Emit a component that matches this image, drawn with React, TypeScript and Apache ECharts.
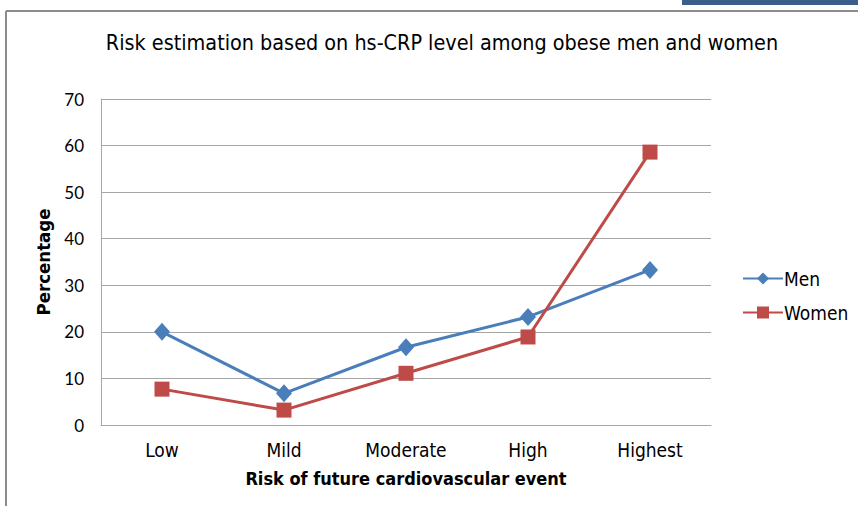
import React, { useEffect, useRef } from "react";
import * as echarts from "echarts";

const categories = ["Low", "Mild", "Moderate", "High", "Highest"];
const menValues = [20.0, 6.8, 16.7, 23.2, 33.3];
const womenValues = [7.7, 3.2, 11.1, 18.9, 58.6];
const yTicks = { min: 0, max: 70, interval: 10 };

const titleText = "Risk estimation based on hs-CRP level among obese men and women";
const xName = "Risk of future cardiovascular event";
const yName = "Percentage";

export default function App() {
  const ref = useRef<HTMLDivElement>(null);
  useEffect(() => {
    if (!ref.current) return;
    const chart = echarts.init(ref.current, null, { renderer: "svg" });
    const cond = "'DejaVu Sans Condensed', 'DejaVu Sans', sans-serif";
    const labelFont = "Lato, 'Open Sans', sans-serif";
    chart.setOption({
      animation: false,
      backgroundColor: "#ffffff",
      title: {
        text: titleText,
        left: 437,
        top: 27,
        textAlign: "center",
        textStyle: {
          fontFamily: cond,
          fontSize: 21.4,
          fontWeight: "normal",
          color: "#000",
        },
      },
      graphic: [
        { type: "rect", shape: { x: 682, y: 0, width: 176, height: 5 }, style: { fill: "#3B5F8A" } },
        { type: "line", shape: { x1: 6, y1: 11, x2: 858, y2: 11 }, style: { stroke: "#8c8c8c", lineWidth: 2 } },
        { type: "line", shape: { x1: 6, y1: 11, x2: 6, y2: 506 }, style: { stroke: "#8c8c8c", lineWidth: 2 } },
      ],
      grid: { left: 101, right: 147, top: 99, bottom: 81, containLabel: false },
      legend: {
        orient: "vertical",
        left: 737,
        top: 264,
        itemWidth: 40,
        itemHeight: 15,
        itemGap: 15,
        textStyle: { fontFamily: cond, fontSize: 19, color: "#000", padding: [0, 0, 0, -4] },
        data: ["Men", "Women"],
      },
      xAxis: {
        type: "category",
        data: categories,
        boundaryGap: true,
        axisTick: { show: false },
        axisLine: { lineStyle: { color: "#a6a6a6", width: 1 } },
        axisLabel: { fontFamily: cond, fontSize: 19, color: "#000", margin: 15 },
        name: xName,
        nameLocation: "middle",
        nameGap: 44,
        nameTextStyle: { fontFamily: cond, fontSize: 18, fontWeight: "bold", color: "#000" },
      },
      yAxis: {
        type: "value",
        min: yTicks.min,
        max: yTicks.max,
        interval: yTicks.interval,
        axisLine: { show: true, lineStyle: { color: "#a6a6a6", width: 1 } },
        axisTick: { show: false },
        splitLine: { lineStyle: { color: "#a6a6a6", width: 1 } },
        axisLabel: { fontFamily: labelFont, fontSize: 17, color: "#000", margin: 17 },
        name: yName,
        nameLocation: "middle",
        nameGap: 47,
        nameTextStyle: { fontFamily: cond, fontSize: 18.5, fontWeight: "bold", color: "#000" },
      },
      series: [
        {
          name: "Men",
          type: "line",
          data: menValues,
          symbol: "diamond",
          symbolSize: [16, 18],
          lineStyle: { color: "#4A7EBB", width: 3 },
          itemStyle: { color: "#4A7EBB" },
        },
        {
          name: "Women",
          type: "line",
          data: womenValues,
          symbol: "rect",
          symbolSize: 15,
          lineStyle: { color: "#BE4B48", width: 3 },
          itemStyle: { color: "#BE4B48" },
        },
      ],
    });
    return () => chart.dispose();
  }, []);
  return (
    <div
      ref={ref}
      style={{ position: "fixed", left: 0, top: 0, width: 858, height: 506 }}
    />
  );
}
